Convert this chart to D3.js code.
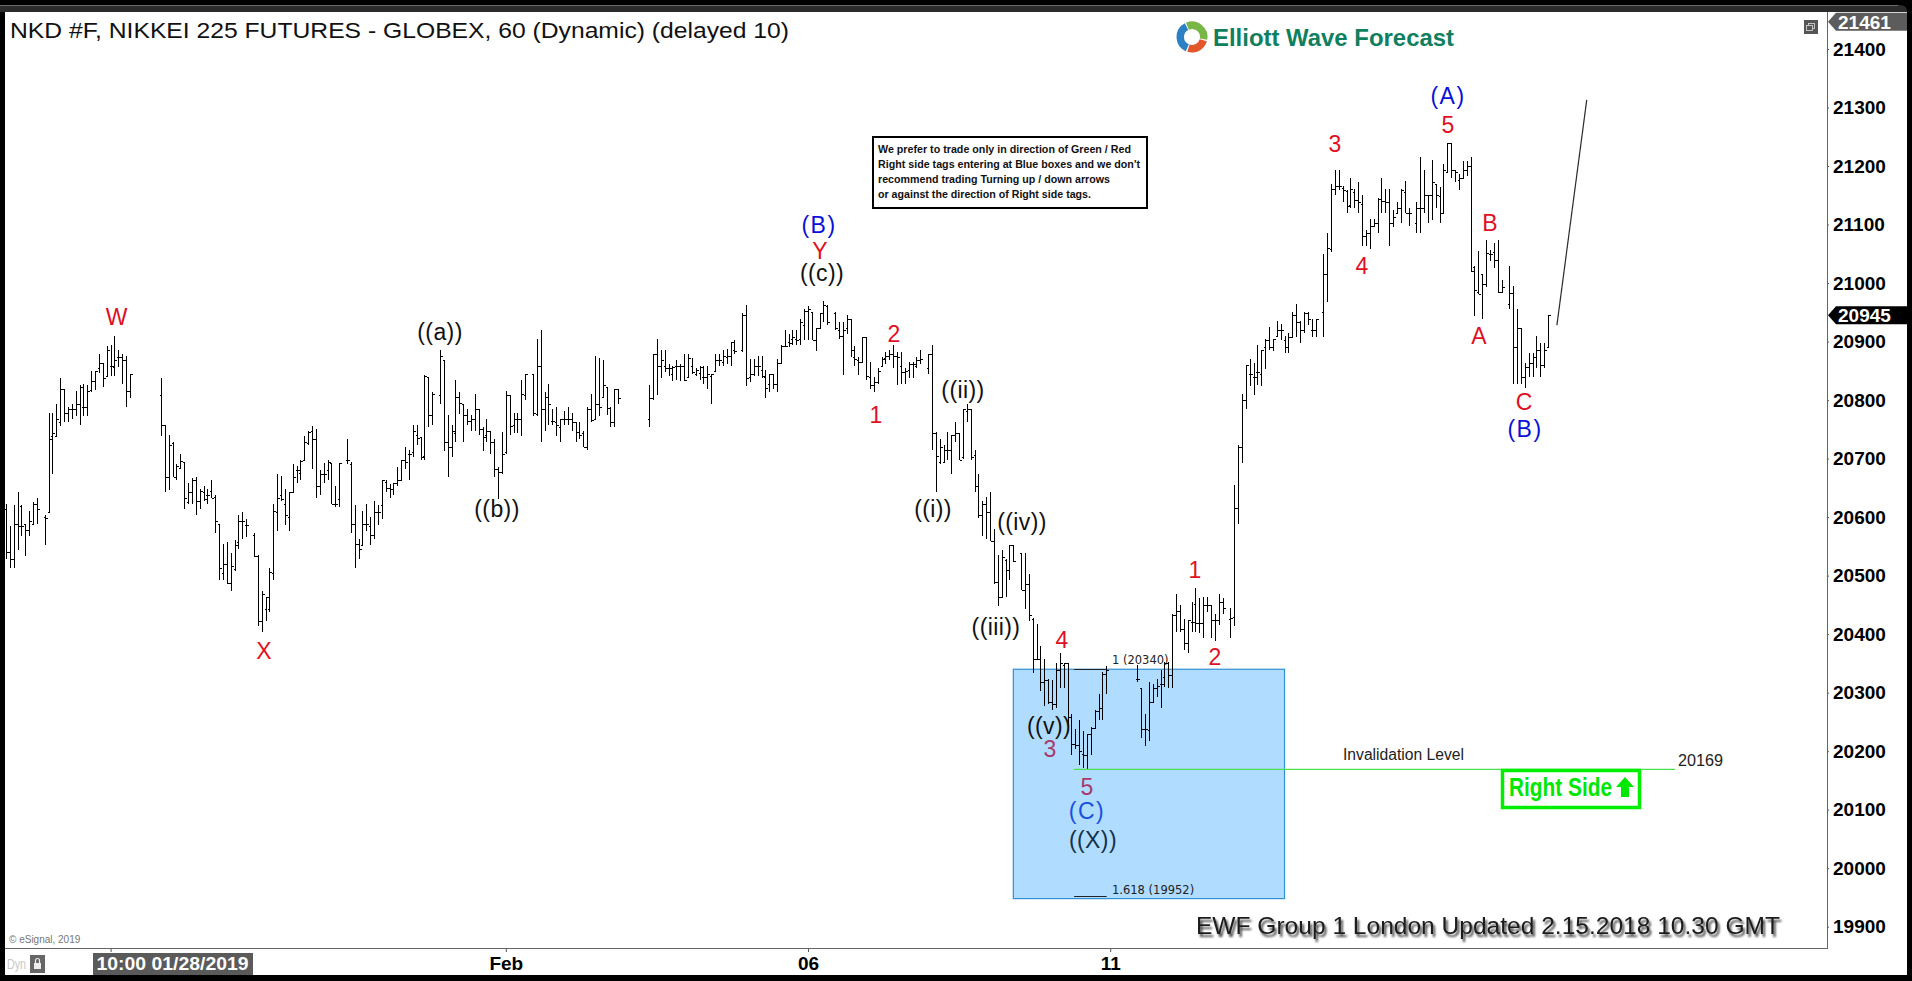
<!DOCTYPE html>
<html><head><meta charset="utf-8">
<script src="https://cdn.jsdelivr.net/npm/d3@7"></script>
<style>html,body{margin:0;padding:0;background:#000;overflow:hidden}svg{display:block}text{font-family:"Liberation Sans",Arial,sans-serif}</style>
</head><body><svg id="c" width="1912" height="981"></svg>
<script>
// ---- data: hourly bars (null = no bar in this slot)
const highs=[20623,20584,20620,20643,20620,20589,20610,20626,20633,null,20603,20778,20778,20794,20838,20819,20789,20793,20815,20825,20828,20825,20849,20849,20879,20863,20892,20894,20909,20885,20879,20875,20844,
null,null,null,null,null,null,null,
20838,20758,20740,20729,20690,20708,20694,20659,20666,20668,20648,20654,20648,20664,20637,20589,20554,20558,20538,20561,20604,20609,20597,null,20573,20536,20473,20464,20513,20623,20674,20670,20648,20643,20690,20688,20698,20739,20748,20755,20750,20680,20692,20697,20693,20654,20693,null,20734,20694,20620,20563,20610,20623,20600,20628,20620,20664,20664,20657,20658,20686,20698,20720,20714,20758,20757,20737,20843,20839,20814,null,20885,20869,20774,20758,20834,20814,20794,20784,20774,20810,20784,20754,20768,20748,20734,20686,20745,20815,20808,20778,20778,20834,20844,null,20844,20904,20919,20814,20828,20784,20789,20768,20782,20789,20778,20762,20762,20748,20788,20810,20875,20872,20869,20823,20789,20819,20819,
null,null,null,null,null,null,null,
20825,20879,20904,20885,20885,20862,20859,20869,20862,20878,20879,20872,20854,20859,20859,20859,20845,20879,20879,20885,20888,20899,20903,null,20948,20963,20871,20871,20875,20875,20851,20845,20845,20871,20894,20919,20913,20919,20919,20939,20955,20960,20951,20924,20948,20969,20962,null,20951,20933,20933,20945,20939,20892,20874,20908,20908,20865,20839,20854,20874,20882,20885,20894,20882,20882,20854,20865,20865,20874,20885,null,20879,20894,
20745,20734,20724,20746,20740,20763,20744,20784,20794,20784,20714,20674,20628,20634,20643,20579,20535,20544,20529,20553,20553,null,20539,20539,20503,
20428,20418,20379,20358,20324,20321,20350,20368,20351,20351,20264,20238,20254,20234,20230,20241,20270,20298,20335,20345,
null,null,null,null,null,null,null,
20347,20308,20264,20318,20314,20324,20338,20352,20352,20435,20469,20449,20426,20424,20455,20479,20462,20464,20464,20449,20435,20469,20461,null,20444,
20655,20724,20810,
20860,20870,20864,20894,20885,20904,20925,20905,20935,20930,20909,20914,20950,20964,20935,20950,20950,20939,20939,null,21049,21085,21169,21194,21194,21166,21159,21179,21160,21173,21150,21090,21109,21109,21145,21179,21160,21160,21125,21139,21160,21174,21129,null,21139,21215,21194,21150,21210,21169,21165,21204,21239,21239,21194,21187,21209,21209,21215,21029,21055,21015,21074,21056,21069,21074,21005,null,21029,20995,20955,20924,20864,20880,20880,20909,20898,20898,20945];
const lows=[20529,20513,20513,20544,20568,20534,20568,20589,20589,null,20552,20609,20674,20739,20755,20762,20762,20768,20772,20758,20773,20773,20814,20818,20846,20823,20839,20842,20842,20856,20828,20788,20804,
null,null,null,null,null,null,null,
20739,20643,20647,20668,20664,20683,20614,20623,20623,20603,20613,20628,20622,20633,20573,20492,20492,20486,20473,20508,20546,20562,20566,null,20532,20414,20403,20422,20438,20492,20577,20627,20587,20577,20643,20658,20663,20697,20723,20683,20632,20637,20658,20663,20622,20618,20618,null,20691,20573,20513,20528,20552,20577,20552,20563,20587,20597,20643,20633,20637,20654,20663,20683,20663,20703,20723,20698,20698,20754,20757,null,20794,20713,20668,20703,20728,20777,20728,20758,20748,20748,20740,20713,20728,20708,20668,20631,20674,20708,20740,20744,20744,20738,20800,null,20773,20773,20728,20748,20757,20757,20739,20728,20757,20757,20748,20728,20734,20719,20714,20762,20768,20773,20804,20774,20754,20754,20794,
null,null,null,null,null,null,null,
20754,20800,20809,20838,20848,20842,20833,20834,20833,20833,20838,20845,20842,20834,20827,20819,20794,20848,20859,20859,20862,20858,20879,null,20883,20824,20831,20841,20841,20837,20804,20814,20819,20814,20863,20891,20891,20894,20894,20894,20902,20903,20903,20884,20924,20933,20929,null,20919,20905,20843,20913,20874,20859,20843,20865,20834,20819,20814,20828,20859,20862,20868,20854,20825,20828,20827,20837,20838,20854,20862,null,20844,20714,
20643,20690,20693,20697,20674,20728,20698,20700,20763,20698,20643,20599,20568,20563,20559,20485,20448,20464,20463,20493,20523,null,20475,20443,20422,
20334,20355,20303,20278,20280,20270,20273,20308,20308,20241,20194,20204,20176,20172,20168,20194,20238,20253,20254,20298,
null,null,null,null,null,null,null,
20318,20223,20209,20217,20282,20292,20274,20310,20308,20308,20404,20404,20373,20368,20404,20404,20402,20394,20438,20394,20388,20415,20435,null,20394,
20414,20589,20693,
20784,20824,20808,20825,20824,20853,20885,20884,20908,20902,20880,20880,20908,20907,20898,20914,20929,20908,20908,null,20908,20968,21053,21150,21159,21139,21119,21129,21129,21119,21063,21063,21059,21095,21085,21119,21119,21063,21096,21119,21102,21119,21097,null,21085,21085,21119,21103,21108,21129,21103,21119,21189,21179,21173,21159,21179,21183,21019,20944,20982,20938,20994,21038,21025,20983,20983,null,20955,20828,20827,20827,20820,20840,20839,20854,20839,20854,20890];
const opens=[20614,20540,20529,20589,20619,20589,20578,20589,20623,null,20600,20609,20738,20739,20762,20819,20778,20784,20784,20794,20789,20789,20818,20833,20854,20863,20841,20859,20856,20874,20874,20868,20815,
null,null,null,null,null,null,null,
20809,20758,20668,20727,20668,20684,20694,20626,20643,20663,20628,20643,20637,20644,20634,20589,20504,20520,20487,20512,20557,20594,20586,null,20569,20534,20422,20443,20443,20504,20609,20637,20623,20600,20643,20680,20675,20698,20727,20748,20734,20654,20674,20680,20693,20622,20631,null,20698,20691,20589,20554,20552,20589,20584,20569,20609,20620,20660,20650,20648,20658,20663,20698,20708,20711,20740,20737,20704,20840,20774,null,20809,20868,20728,20720,20744,20805,20794,20774,20764,20768,20784,20751,20740,20748,20728,20683,20677,20711,20808,20757,20768,20768,20808,null,20844,20777,20859,20784,20805,20764,20762,20754,20768,20768,20768,20762,20745,20744,20719,20784,20768,20793,20805,20823,20787,20762,20819,
null,null,null,null,null,null,null,
20768,20804,20879,20858,20858,20854,20845,20859,20859,20859,20839,20859,20844,20846,20839,20839,20842,20850,20868,20865,20874,20875,20885,null,20885,20945,20839,20845,20859,20851,20839,20828,20844,20828,20864,20892,20899,20905,20905,20905,20928,20953,20951,20903,20924,20948,20960,null,20949,20919,20909,20924,20939,20874,20868,20865,20908,20839,20825,20831,20859,20872,20876,20879,20875,20859,20848,20851,20862,20859,20869,null,20854,20879,
20744,20694,20694,20714,20714,20740,20744,20703,20781,20784,20706,20654,20603,20623,20609,20559,20489,20464,20526,20509,20552,null,20538,20475,20486,
20426,20358,20358,20318,20321,20284,20280,20339,20347,20350,20258,20213,20210,20196,20193,20230,20240,20269,20273,20332,
null,null,null,null,null,null,null,
20324,20308,20238,20236,20284,20308,20315,20327,20350,20331,20432,20439,20409,20384,20421,20452,20419,20419,20449,20449,20424,20424,20455,null,20426,
20429,20615,20719,
20800,20844,20840,20848,20844,20890,20902,20891,20909,20920,20902,20890,20908,20945,20934,20920,20948,20920,20920,null,20950,21016,21059,21161,21166,21162,21158,21133,21156,21142,21135,21080,21085,21097,21103,21143,21140,21139,21103,21119,21129,21156,21119,null,21103,21129,21128,21150,21150,21169,21149,21119,21190,21239,21193,21176,21179,21194,21200,21028,20985,21015,20999,21049,21053,21039,20985,null,20965,20983,20890,20924,20839,20857,20863,20874,20885,20860,20891];
const closes=[20540,20529,20589,20584,20584,20578,20594,20623,20614,null,20599,20734,20744,20768,20819,20778,20784,20784,20794,20822,20789,20815,20833,20849,20863,20838,20885,20859,20869,20874,20869,20815,20844,
null,null,null,null,null,null,null,
20758,20668,20724,20668,20688,20696,20633,20643,20663,20628,20644,20631,20637,20633,20594,20513,20520,20487,20517,20553,20594,20594,20586,null,20534,20422,20469,20463,20506,20611,20633,20631,20603,20643,20668,20680,20696,20729,20745,20734,20654,20674,20674,20694,20623,20622,20693,null,20698,20589,20554,20545,20589,20589,20569,20609,20609,20663,20650,20648,20658,20663,20698,20694,20708,20748,20736,20703,20842,20774,20810,null,20875,20729,20720,20748,20805,20795,20774,20764,20768,20784,20751,20737,20748,20728,20683,20677,20708,20808,20755,20768,20768,20810,20844,null,20778,20859,20784,20805,20794,20764,20757,20768,20768,20768,20762,20745,20741,20719,20784,20766,20793,20789,20825,20787,20762,20819,20804,
null,null,null,null,null,null,null,
20804,20879,20858,20869,20854,20854,20857,20859,20859,20834,20872,20848,20852,20857,20839,20845,20845,20869,20869,20875,20875,20899,20884,null,20945,20838,20844,20859,20859,20842,20821,20844,20827,20864,20892,20892,20898,20907,20903,20933,20953,20955,20903,20924,20948,20962,20933,null,20924,20909,20919,20939,20886,20871,20865,20908,20841,20825,20831,20850,20871,20875,20878,20875,20874,20848,20850,20862,20862,20868,20871,null,20879,20744,
20704,20719,20714,20714,20740,20744,20698,20784,20785,20703,20654,20603,20623,20609,20559,20489,20463,20532,20509,20552,20525,null,20475,20486,20432,
20358,20358,20318,20322,20284,20280,20339,20350,20350,20258,20213,20210,20201,20193,20230,20240,20269,20273,20332,20339,
null,null,null,null,null,null,null,
20324,20238,20238,20284,20308,20311,20315,20350,20331,20432,20439,20409,20384,20424,20421,20419,20419,20449,20449,20424,20424,20455,20444,null,20428,
20615,20719,20800,
20860,20844,20840,20848,20885,20902,20891,20905,20920,20920,20890,20908,20945,20934,20920,20948,20938,20920,20939,null,21016,21060,21161,21166,21166,21159,21132,21160,21142,21139,21080,21085,21097,21103,21143,21140,21139,21103,21113,21129,21159,21119,21119,null,21129,21129,21150,21150,21173,21150,21119,21194,21239,21194,21190,21179,21194,21200,21021,20988,20982,20999,21051,21049,21039,20985,20994,null,20983,20890,20924,20839,20857,20863,20874,20885,20860,20885,20945];
const priceTicks=[19900,20000,20100,20200,20300,20400,20500,20600,20700,20800,20900,21000,21100,21200,21300,21400];
const timeSlots=[27,129,207,285];
const timeLabels=["10:00 01/28/2019","Feb","06","11"];
const projectionSlots=[400.3,408];
const projectionPrices=[20928,21313];
const boxTop=20340, boxBottom=19948, fib1=20340, fib1618=19952, invalidation=20169, lastPrice=20945, topPrice=21461;

// ---- drawing
const svg=d3.select("#c");
const x=d3.scaleLinear().domain([0,398]).range([6,1548]);
const y=d3.scaleLinear().domain([19900,21400]).range([926.7,49]);

// window frame
svg.append("rect").attr("width",1912).attr("height",981).attr("fill","#000");
svg.append("path").attr("d","M0 5H1900Q1907 5 1907 12H0Z").attr("fill","#2b2b2b");
svg.append("rect").attr("x",0).attr("y",5).attr("width",1898).attr("height",1).attr("fill","#6a6a6a");
svg.append("rect").attr("x",5).attr("y",12).attr("width",1902).attr("height",963).attr("fill","#fff");

// blue box
const boxL=x(260), boxR=x(330);
svg.append("rect").attr("x",boxL).attr("y",y(boxTop)).attr("width",boxR-boxL).attr("height",y(boxBottom)-y(boxTop))
  .attr("fill","#b0dcff").attr("stroke","#2f90d2").attr("stroke-width",1.2);

// fib lines
const fibLine=(p)=>svg.append("line").attr("x1",x(275.7)).attr("x2",x(284.1)).attr("y1",Math.round(y(p))+.5).attr("y2",Math.round(y(p))+.5).attr("stroke","#222").attr("stroke-width",1);
fibLine(fib1);fibLine(fib1618);
const small=(t,px,py)=>svg.append("text").attr("x",px).attr("y",py).attr("font-size",11.5).attr("fill","#222").style("font-family","'DejaVu Sans'").text(t);
small("1 (20340)",1112,664);
small("1.618 (19952)",1112,894);

// bars
const slots=d3.range(highs.length).filter(i=>highs[i]!==null);
const px=i=>Math.round(x(i))+.5;
const g=svg.append("g").attr("stroke","#000").attr("stroke-width",1).attr("shape-rendering","crispEdges");
g.selectAll("line.s").data(slots).join("line").attr("class","s")
  .attr("x1",px).attr("x2",px).attr("y1",i=>y(highs[i])).attr("y2",i=>y(lows[i]));
g.selectAll("line.o").data(slots).join("line").attr("class","o")
  .attr("x1",i=>px(i)-2).attr("x2",px).attr("y1",i=>Math.round(y(opens[i]))+.5).attr("y2",i=>Math.round(y(opens[i]))+.5);
g.selectAll("line.c").data(slots).join("line").attr("class","c")
  .attr("x1",px).attr("x2",i=>px(i)+2).attr("y1",i=>Math.round(y(closes[i]))+.5).attr("y2",i=>Math.round(y(closes[i]))+.5);

// projection and invalidation lines
svg.append("path").datum(d3.zip(projectionSlots,projectionPrices))
  .attr("d",d3.line().x(d=>x(d[0])).y(d=>y(d[1]))).attr("fill","none").attr("stroke","#2a2a2a").attr("stroke-width",1.2);
svg.append("line").attr("x1",1074).attr("x2",1675).attr("y1",y(invalidation)).attr("y2",y(invalidation)).attr("stroke","#4fe04f").attr("stroke-width",1.2);

// axes
const axisR=d3.axisRight(y).tickValues(priceTicks).tickSize(2).tickPadding(4).tickFormat(d3.format("d"));
const yA=svg.append("g").attr("transform","translate(1827,0)").call(axisR);
yA.select(".domain").remove();
yA.selectAll("text").attr("font-size",19).attr("font-weight","bold").attr("fill","#000").style("font-family","'Liberation Sans'");
yA.selectAll("line").attr("stroke","#555");
const axisB=d3.axisBottom(x).tickValues(timeSlots).tickSize(4).tickPadding(5).tickFormat((d,i)=>timeLabels[i]);
svg.append("rect").attr("x",93).attr("y",953).attr("width",160).attr("height",22).attr("fill","#5a5a5a");
const xA=svg.append("g").attr("transform","translate(0,948)").call(axisB);
xA.select(".domain").remove();
xA.selectAll("text").attr("font-size",19).attr("font-weight","bold").attr("fill","#000").style("font-family","'Liberation Sans'");
xA.selectAll("line").attr("stroke","#555");
xA.selectAll("text").filter((d,i)=>i===0).attr("fill","#fff").attr("text-anchor","start").attr("x",96-x(timeSlots[0])).attr("textLength",152).attr("lengthAdjust","spacingAndGlyphs");
svg.append("line").attr("x1",1827.5).attr("x2",1827.5).attr("y1",12).attr("y2",948).attr("stroke","#666");
svg.append("line").attr("x1",5).attr("x2",1828).attr("y1",948.5).attr("y2",948.5).attr("stroke","#666");

// price tags
const tag=(cy,fill,t)=>{
  svg.append("path").attr("d",`M1828 ${cy}L1836 ${cy-9}H1907V${cy+9}H1836Z`).attr("fill",fill);
  svg.append("text").attr("x",1838).attr("y",cy+7).attr("font-size",19).attr("font-weight","bold").attr("fill","#fff").text(t);
};
tag(21.7,"#5c5c5c",String(topPrice));
tag(y(lastPrice),"#000",String(lastPrice));

// restore icon
svg.append("rect").attr("x",1804).attr("y",20).attr("width",14).attr("height",14).attr("fill","#555");
svg.append("rect").attr("x",1808.5).attr("y",23.5).attr("width",6).attr("height",5).attr("fill","none").attr("stroke","#ddd").attr("stroke-width",.8);
svg.append("rect").attr("x",1806.5).attr("y",25.5).attr("width",6).attr("height",5).attr("fill","#555").attr("stroke","#ddd").attr("stroke-width",.8);

// title
svg.append("text").attr("x",10).attr("y",38).attr("font-size",22.5).attr("fill","#111").attr("textLength",779).attr("lengthAdjust","spacingAndGlyphs")
  .text("NKD #F, NIKKEI 225 FUTURES - GLOBEX, 60 (Dynamic) (delayed 10)");

// logo
const arc=d3.arc().innerRadius(8).outerRadius(15.5);
[[-0.4,1.75,"#79b648"],[1.85,3.45,"#e2572b"],[3.55,5.8,"#2c80c4"]].forEach(a=>{
  svg.append("path").attr("transform","translate(1192,37)").attr("d",arc({startAngle:a[0],endAngle:a[1]})).attr("fill",a[2]);
});
svg.append("text").attr("x",1213).attr("y",46).attr("font-size",23).attr("font-weight","bold").attr("fill","#0f7f5f").attr("textLength",241).attr("lengthAdjust","spacingAndGlyphs").text("Elliott Wave Forecast");

// note box
svg.append("rect").attr("x",873).attr("y",137).attr("width",274).attr("height",71).attr("fill","#fff").attr("stroke","#000").attr("stroke-width",2);
[["We prefer to trade only in direction of Green / Red",153,253],
 ["Right side tags entering at Blue boxes and we don't",168,262],
 ["recommend trading Turning up / down arrows",183,232],
 ["or against the direction of Right side tags.",198,213]].forEach(l=>{
  svg.append("text").attr("x",878).attr("y",l[1]).attr("font-size",11.5).attr("font-weight","bold").attr("fill","#111").attr("textLength",l[2]).attr("lengthAdjust","spacingAndGlyphs").text(l[0]);
});

// wave labels
const RED="#e0101f",BLK="#111",BLU="#0a10d8",MAR="#a83a68";
[["W",116.5,325,RED],["X",264,659,RED],["((a))",440,340,BLK],["((b))",497,517,BLK],["((c))",822,281,BLK],["Y",820,259,RED],["(B)",819,233,BLU],
 ["2",894,342,RED],["1",876,423,RED],["((i))",933,517,BLK],["((ii))",963,398,BLK],["((iii))",996,635,BLK],["((iv))",1022,530,BLK],["4",1062,648,RED],
 ["((v))",1049,734,BLK],["3",1050,757,MAR],["5",1087,795,MAR],["(C)",1087,819,"#1a50e0"],["((X))",1093,848,"#14304a"],["2",1215,665,RED],["1",1195,578,RED],
 ["3",1335,152,RED],["4",1362,274,RED],["5",1448,133,RED],["(A)",1448,104,BLU],["B",1490,231,RED],["A",1479,344,RED],["C",1524,410,RED],["(B)",1525,437,BLU]
].forEach(l=>{
  const sp=l[0][0]==="("?(l[3]===BLU||l[0]==="(C)"?1.5:.4):0;
  svg.append("text").attr("x",l[1]).attr("y",l[2]).attr("text-anchor","middle").attr("font-size",23).attr("letter-spacing",sp).attr("fill",l[3]).text(l[0]);
});

// invalidation labels
svg.append("text").attr("x",1343).attr("y",760).attr("font-size",16).attr("fill","#222").attr("textLength",121).attr("lengthAdjust","spacingAndGlyphs").text("Invalidation Level");
svg.append("text").attr("x",1678).attr("y",766).attr("font-size",16).attr("fill","#222").attr("textLength",45).attr("lengthAdjust","spacingAndGlyphs").text(String(invalidation));

// right side tag
svg.append("rect").attr("x",1502.5).attr("y",770.5).attr("width",137).attr("height",37).attr("fill","#fff").attr("stroke","#00ee00").attr("stroke-width",3.5);
svg.append("text").attr("x",1509).attr("y",796).attr("font-size",25).attr("font-weight","bold").attr("fill","#00e800").attr("textLength",103).attr("lengthAdjust","spacingAndGlyphs").text("Right Side");
svg.append("path").attr("d","M1625 777L1634 787H1629V797H1621V787H1616Z").attr("fill","#00e800");

// footer
const defs=svg.append("defs");
const f=defs.append("filter").attr("id","sh").attr("x","-5%").attr("y","-30%").attr("width","110%").attr("height","170%");
f.append("feDropShadow").attr("dx",2).attr("dy",3).attr("stdDeviation",1.3).attr("flood-color","#444");
svg.append("text").attr("x",1196).attr("y",934).attr("font-size",24.5).attr("fill","#1a1a1a").attr("filter","url(#sh)").attr("textLength",584).attr("lengthAdjust","spacingAndGlyphs").text("EWF Group 1 London Updated 2.15.2018 10.30 GMT");
svg.append("text").attr("x",9).attr("y",943).attr("font-size",10).attr("fill","#777").text("© eSignal, 2019");
svg.append("text").attr("x",7).attr("y",969).attr("font-size",15).attr("fill","#c8c8c8").attr("textLength",19).attr("lengthAdjust","spacingAndGlyphs").text("Dyn");
svg.append("rect").attr("x",30).attr("y",955).attr("width",15).attr("height",18).attr("fill","#666");
svg.append("rect").attr("x",34).attr("y",963).attr("width",7).attr("height",6).attr("fill","#eee");
svg.append("path").attr("d","M35.5 963V960.5A2 2 0 0 1 39.5 960.5V963").attr("fill","none").attr("stroke","#eee").attr("stroke-width",1.2);
</script></body></html>
